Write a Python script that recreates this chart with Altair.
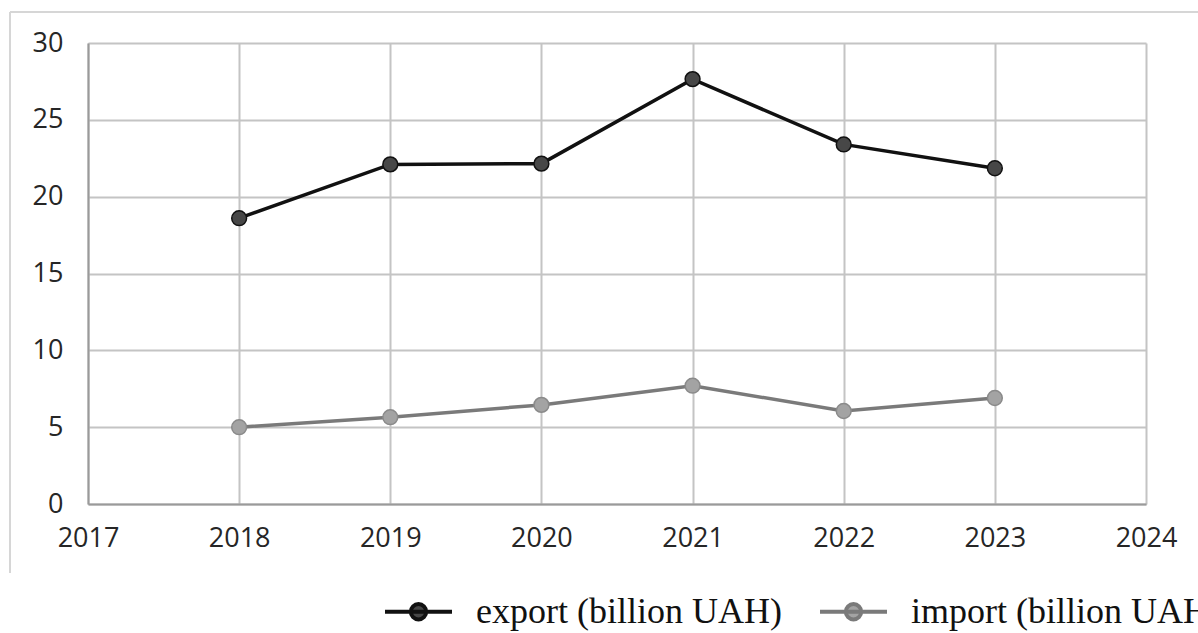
import altair as alt
import pandas as pd

years = [2018, 2019, 2020, 2021, 2022, 2023]
export_vals = [18.6, 22.1, 22.15, 27.65, 23.4, 21.85]
import_vals = [5.0, 5.65, 6.45, 7.7, 6.05, 6.9]
series_names = ["export (billion UAH)", "import (billion UAH)"]
x_ticks = [2017, 2018, 2019, 2020, 2021, 2022, 2023, 2024]
y_ticks = [0, 5, 10, 15, 20, 25, 30]

rows = []
for y, v in zip(years, export_vals):
    rows.append({"year": y, "value": v, "series": series_names[0]})
for y, v in zip(years, import_vals):
    rows.append({"year": y, "value": v, "series": series_names[1]})
df = pd.DataFrame(rows)

LABEL_FONT = "Open Sans"

x_enc = alt.X("year:Q", scale=alt.Scale(domain=[2017, 2024], nice=False, zero=False),
              axis=alt.Axis(values=x_ticks, format="d", title=None, grid=True,
                            labelFont=LABEL_FONT, labelFontSize=27, labelColor="#262626",
                            labelPadding=21, ticks=False, domainColor="#9a9a9a",
                            domainWidth=2, gridColor="#c4c4c4", gridWidth=2,
                            labelFlush=False))
y_enc = alt.Y("value:Q", scale=alt.Scale(domain=[0, 30], nice=False),
              axis=alt.Axis(values=y_ticks, title=None, grid=True,
                            labelFont=LABEL_FONT, labelFontSize=27, labelColor="#262626",
                            labelPadding=25, ticks=False, domainColor="#9a9a9a",
                            domainWidth=2, gridColor="#c4c4c4", gridWidth=2))

line_path = "M-1,0H1M-0.23,0A0.23,0.23 0 1,0 0.23,0A0.23,0.23 0 1,0 -0.23,0Z"
dot_path = "M-0.2,0A0.2,0.2 0 1,0 0.2,0A0.2,0.2 0 1,0 -0.2,0Z"

common_legend = dict(orient="none", direction="horizontal", legendX=295, legendY=533,
                     title=None, symbolSize=4489, labelFont="Liberation Serif",
                     labelFontSize=36, labelOffset=22, columnPadding=30, padding=0,
                     labelLimit=600)

lines = alt.Chart(df).mark_line(strokeWidth=3.5).encode(
    x=x_enc, y=y_enc,
    color=alt.Color("series:N",
                    scale=alt.Scale(domain=series_names, range=["#111111", "#7a7a7a"]),
                    legend=alt.Legend(symbolType=line_path, symbolStrokeWidth=4,
                                      symbolFillColor="transparent",
                                      labelColor="#111111", zindex=1, **common_legend)),
)

points = alt.Chart(df).mark_point(filled=True, size=220, strokeWidth=1.5, opacity=1).encode(
    x=alt.X("year:Q"), y=alt.Y("value:Q"),
    fill=alt.Fill("series:N",
                  scale=alt.Scale(domain=series_names, range=["#474747", "#a3a3a3"]),
                  legend=alt.Legend(symbolType=dot_path, symbolStrokeWidth=0,
                                    symbolOpacity=1, labelColor="transparent",
                                    zindex=2, **common_legend)),
    stroke=alt.Stroke("series:N",
                      scale=alt.Scale(domain=series_names, range=["#111111", "#8a8a8a"]),
                      legend=None),
)

frame_df = pd.DataFrame({"k": [0]})
top_rule = alt.Chart(frame_df).mark_rule(color="#d6d6d6", strokeWidth=2).encode(
    x=alt.value(-78), x2=alt.value(1110), y=alt.value(-31))
left_rule = alt.Chart(frame_df).mark_rule(color="#d6d6d6", strokeWidth=2).encode(
    x=alt.value(-78), y=alt.value(-31), y2=alt.value(530))

chart = alt.layer(top_rule, left_rule, lines, points).properties(
    width=1058, height=461,
    autosize=alt.AutoSizeParams(type="none"),
    padding={"left": 88, "top": 43, "right": 52, "bottom": 128},
    background="white",
).configure_view(stroke="transparent")

chart.save("out.html", embed_options={"renderer": "svg", "actions": False})
